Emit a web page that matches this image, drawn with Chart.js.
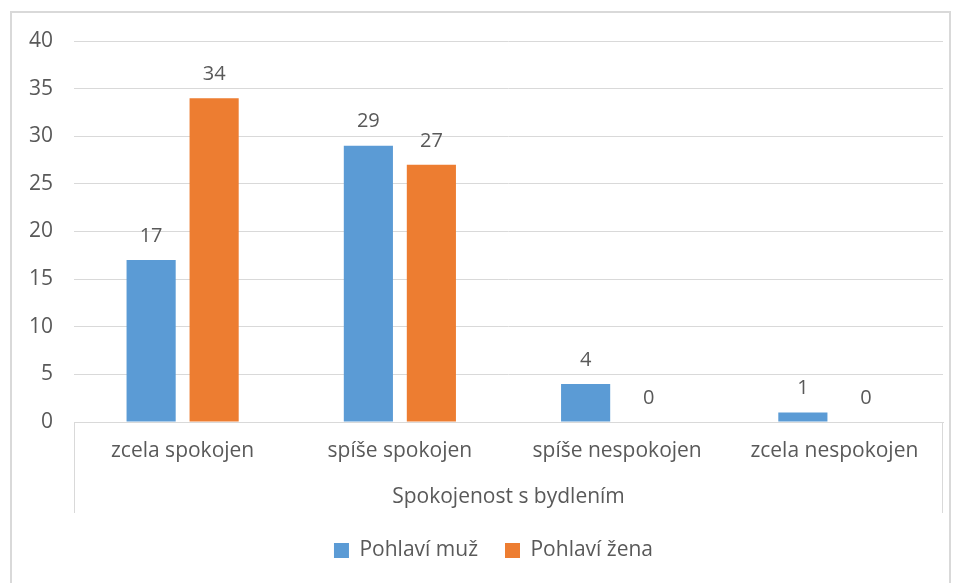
<!DOCTYPE html>
<html>
<head>
<meta charset="utf-8">
<script src="https://cdn.jsdelivr.net/npm/chart.js@4"></script>
<style>
  body { margin: 0; background: #fff; }
  #wrap { position: relative; width: 957px; height: 583px; }
  #frame { position: absolute; left: 10px; top: 11px; width: 941px; height: 600px; border: 2px solid #d9d9d9; box-sizing: border-box; }
  canvas { position: absolute; left: 0; top: 0; }
</style>
</head>
<body>
<div id="wrap">
  <div id="frame"></div>
  <canvas id="myChart" width="957" height="583"></canvas>
</div>
<script>
const categories = ['zcela spokojen', 'spíše spokojen', 'spíše nespokojen', 'zcela nespokojen'];
const seriesNames = ['Pohlaví muž', 'Pohlaví žena'];
const valuesMuz = [17, 29, 4, 1];
const valuesZena = [34, 27, 0, 0];
const axisTitle = 'Spokojenost s bydlením';

const textColor = '#595959';
const fontFamily = '"Open Sans", sans-serif';

// value labels above the bars
const valueLabels = {
    id: 'valueLabels',
    afterDatasetsDraw(chart) {
        let ctx = chart.ctx;
        ctx.save();
        ctx.fillStyle = textColor;
        ctx.font = '20px ' + fontFamily;
        ctx.textAlign = 'center';
        ctx.textBaseline = 'middle';
        chart.data.datasets.forEach((ds, i) => {
            let meta = chart.getDatasetMeta(i);
            meta.data.forEach((bar, j) => {
                ctx.fillText(String(ds.data[j]), bar.x, bar.y - 24);
            });
        });
        ctx.restore();
    }
};

// side lines of the category axis box
const axisBox = {
    id: 'axisBox',
    afterDraw(chart) {
        let ctx = chart.ctx;
        let area = chart.chartArea;
        ctx.save();
        ctx.strokeStyle = '#d9d9d9';
        ctx.lineWidth = 1;
        ctx.beginPath();
        ctx.moveTo(area.left + 0.5, area.bottom);
        ctx.lineTo(area.left + 0.5, area.bottom + 91);
        ctx.moveTo(area.right - 0.5, area.bottom);
        ctx.lineTo(area.right - 0.5, area.bottom + 91);
        ctx.stroke();
        ctx.restore();
    }
};

// fixed legend height so the wide item spacing does not eat the plot
const legendHeight = {
    id: 'legendHeight',
    beforeInit(chart) {
        const origFit = chart.legend.fit;
        chart.legend.fit = function () {
            origFit.bind(chart.legend)();
            this.height = 65;
        };
    },
    afterUpdate(chart) {
        // centre the legend under the plot area, a bit lower
        let lg = chart.legend;
        lg.left += 22;
        lg.right += 22;
        lg.top += 3;
        lg.bottom += 3;
        lg.adjustHitBoxes();
    }
};

let ctx = document.getElementById('myChart').getContext('2d');
let chart = new Chart(ctx, {
    type: 'bar',
    data: {
        labels: categories,
        datasets: [{
                label: seriesNames[0],
                data: valuesMuz,
                backgroundColor: '#5B9BD5',
                categoryPercentage: 0.58,
                barPercentage: 0.78
            }, {
                label: seriesNames[1],
                data: valuesZena,
                backgroundColor: '#ED7D31',
                categoryPercentage: 0.58,
                barPercentage: 0.78
            }]
    },
    options: {
        responsive: false,
        animation: false,
        layout: {
            padding: { left: 0, right: 14, top: 41, bottom: 8 }
        },
        plugins: {
            legend: {
                position: 'bottom',
                labels: {
                    color: textColor,
                    font: { family: fontFamily, size: 21 },
                    boxWidth: 15,
                    boxHeight: 15,
                    padding: 27
                }
            },
            tooltip: { enabled: false }
        },
        scales: {
            x: {
                grid: { display: false, drawTicks: false },
                border: { display: true, color: '#d9d9d9' },
                ticks: {
                    color: textColor,
                    font: { family: fontFamily, size: 21 },
                    padding: 16
                },
                title: {
                    display: true,
                    text: axisTitle,
                    color: textColor,
                    font: { family: fontFamily, size: 21 },
                    padding: { top: 0, bottom: 0 }
                },
                afterFit(scale) {
                    scale.height = 88;
                }
            },
            y: {
                min: 0,
                max: 40,
                ticks: {
                    stepSize: 5,
                    color: textColor,
                    font: { family: fontFamily, size: 21 },
                    padding: 21
                },
                grid: { color: '#d9d9d9', drawTicks: false },
                border: { display: false },
                afterFit(scale) {
                    scale.width = 74;
                }
            }
        }
    },
    plugins: [valueLabels, axisBox, legendHeight]
});
</script>
</body>
</html>
